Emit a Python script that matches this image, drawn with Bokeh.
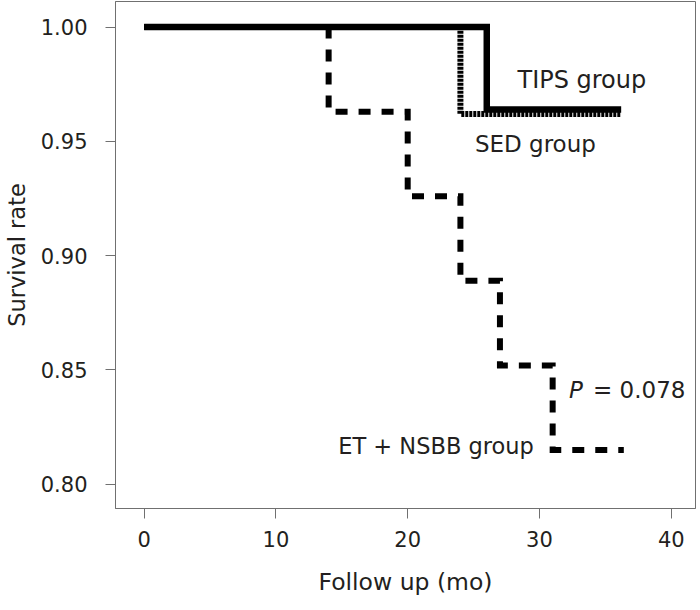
from bokeh.plotting import figure
from bokeh.models import Range1d, FixedTicker, PrintfTickFormatter, Label
from bokeh.embed import file_html
from bokeh.resources import INLINE

# ---- data ----
tips_time = [0, 26, 36.2]
tips_surv = [1.0, 0.964, 0.964]
sed_time = [0, 24, 36.2]
sed_surv = [1.0, 0.962, 0.962]
et_time = [0, 14, 20, 24, 27, 31, 36.4]
et_surv = [1.0, 0.963, 0.926, 0.889, 0.852, 0.815, 0.815]
x_ticks = [0, 10, 20, 30, 40]
y_ticks = [0.80, 0.85, 0.90, 0.95, 1.00]

# ---- styling ----
FONT = "DejaVu Sans"
TXT = "#231f20"
FRAME = "#707070"

p = figure(width=700, height=610,
           x_range=Range1d(-2.174, 41.84), y_range=Range1d(0.7894, 1.0112),
           output_backend="svg", toolbar_location=None,
           min_border_left=114, min_border_right=5,
           min_border_top=1, min_border_bottom=102)
p.xgrid.visible = False
p.ygrid.visible = False
p.outline_line_color = FRAME
p.outline_line_width = 1
p.background_fill_color = "white"
p.border_fill_color = "white"

p.xaxis.ticker = FixedTicker(ticks=x_ticks)
p.yaxis.ticker = FixedTicker(ticks=y_ticks)
p.yaxis.formatter = PrintfTickFormatter(format="%.2f")
for ax in (p.xaxis, p.yaxis):
    ax.axis_line_color = FRAME
    ax.major_tick_line_color = FRAME
    ax.major_tick_out = 10
    ax.major_tick_in = 0
    ax.minor_tick_line_color = None
    ax.major_label_text_font = FONT
    ax.major_label_text_font_size = "21px"
    ax.major_label_text_color = TXT
    ax.axis_label_text_font = FONT
    ax.axis_label_text_font_style = "normal"
    ax.axis_label_text_color = TXT
p.xaxis.axis_label = "Follow up (mo)"
p.yaxis.axis_label = "Survival rate"
p.xaxis.axis_label_text_font_size = "23.5px"
p.yaxis.axis_label_text_font_size = "22.5px"
p.xaxis.major_label_standoff = 12
p.yaxis.major_label_standoff = 18
p.xaxis.axis_label_standoff = 18
p.yaxis.axis_label_standoff = 8

# ---- curves ----
p.step(et_time, et_surv, mode="after", line_color="black", line_width=6,
       line_dash="12 11", line_join="miter")
p.step(sed_time, sed_surv, mode="after", line_color="black", line_width=6,
       line_dash="3 1", line_join="miter")
p.step(tips_time, tips_surv, mode="after", line_color="black", line_width=6.5,
       line_join="miter")

# ---- annotations ----
def lab(x, y, text, size="23px", align="left", style="normal", xoff=0):
    p.add_layout(Label(x=x, y=y, text=text, text_font=FONT, text_font_size=size,
                       text_color=TXT, text_align=align, text_baseline="middle",
                       text_font_style=style, x_offset=xoff))

lab(28.33, 0.9767, "TIPS group", size="24px")
lab(25.1, 0.9490, "SED group")
lab(32.24, 0.8414, "P", style="italic")
lab(32.24, 0.8414, "= 0.078", xoff=24)
lab(29.57, 0.8167, "ET + NSBB group", size="22.5px", align="right")

open("out.html", "w").write(file_html(p, INLINE))
